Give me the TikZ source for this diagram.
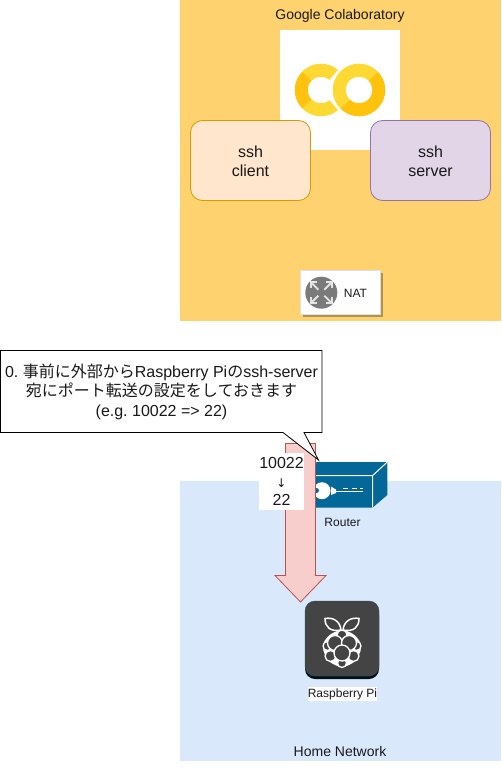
\documentclass[tikz,border=0pt]{standalone}
\usepackage{fontspec}
\setmainfont{Liberation Sans}
\newfontfamily\cjk{Noto Sans CJK JP}
\frenchspacing
\definecolor{colabbg}{HTML}{FFD270}
\definecolor{homebg}{HTML}{DAE8FC}
\definecolor{clientbg}{HTML}{FFE6CC}
\definecolor{clientln}{HTML}{D79B00}
\definecolor{serverbg}{HTML}{E1D5E7}
\definecolor{serverln}{HTML}{9673A6}
\definecolor{arrowbg}{HTML}{F8CECC}
\definecolor{arrowln}{HTML}{B85450}
\definecolor{routerbg}{HTML}{036897}
\definecolor{pibg}{HTML}{444444}
\definecolor{colablt}{HTML}{FFD933}
\definecolor{colabdk}{HTML}{FFC20D}
\tikzset{
	txt/.style={inner sep=0pt,align=center,text=black!90},
	sshbox/.style={draw,rounded corners=12pt,minimum width=120pt,minimum height=80pt,line width=0.8pt},
	dot/.style={circle,inner sep=0pt,minimum size=#1},
}
% ring piece of the logo: colour, centre x, from angle, to angle
\newcommand{\ringpart}[4]{\fill[#1] (#2,90) ++(-#3:26.3) arc (-#3:-#4:26.3) -- ++(-#4:-13) arc (-#4:-#3:13.3) -- cycle;}
\begin{document}
\begin{tikzpicture}[x=1pt,y=-1pt]
	\useasboundingbox (0,0) rectangle (501,773);
	% colab side
	\fill[colabbg] (180,0.5) rectangle (500.5,320.5);
	\node[txt,font=\fontsize{14}{17}\selectfont] (colabname) at (340,16) {Google Colaboratory};
	\fill[white] (280,30) rectangle (400,150);
	% logo
	\ringpart{colablt}{359}{45}{225}
	\ringpart{colabdk}{359}{-135}{45}
	\ringpart{colablt}{321}{50}{135}
	\ringpart{colablt}{321}{225}{310}
	\ringpart{colabdk}{321}{135}{225}
	\node[sshbox,fill=clientbg,draw=clientln] (sshclient) at (250.5,160.5) {};
	\node[txt,font=\fontsize{16}{19}\selectfont] (clientname) at (250.5,161.5) {ssh\\client};
	\node[sshbox,fill=serverbg,draw=serverln] (sshserver) at (430.5,160.5) {};
	\node[txt,font=\fontsize{16}{19}\selectfont] (servername) at (430.5,161.5) {ssh\\server};
	% nat
	\fill[black!30!colabbg] (302.5,272.5) rectangle (382.5,317);
	\node[draw=black!13,fill=white,line width=0.8pt,minimum width=80pt,minimum height=44pt,inner sep=0pt] (natbox) at (340.5,292.5) {};
	\node[dot=32pt,fill=black!52] (naticon) at (321.3,292.7) {};
	\foreach \sx/\sy in {-1/-1,1/-1,-1/1,1/1} {
		\draw[black!10,line width=1.8pt] (naticon.center) ++(\sx*3,\sy*3) -- ++(\sx*7,\sy*7);
		\draw[black!10,line width=1.8pt] (naticon.center) ++(\sx*4.5,\sy*10.5) -- ++(\sx*6,0) -- ++(0,-\sy*6);
	}
	\node[txt,font=\fontsize{12}{14}\selectfont] (natname) at (355.5,293) {NAT};
	% home side
	\fill[homebg] (180,480.5) rectangle (500.5,761);
	\node[txt,font=\fontsize{14}{17}\selectfont] (homename) at (340,751.5) {Home Network};
	% router
	\fill[routerbg] (302,475) -- (317,462) -- (387.3,462) -- (387.3,495) -- (372.7,507.5) -- (302,507.5) -- cycle;
	\draw[white,line width=1pt] (302,475.5) -- (372.7,475.5) -- (387.3,462) (372.7,475.5) -- (372.7,507.5);
	\node[dot=17pt,fill=white] (keyhead) at (322,490.7) {};
	\node[dot=5pt,fill=routerbg] (keyhole) at (316.5,490.5) {};
	\fill[white] (331,486.5) -- (336,489.5) -- (336,493) -- (331,495) -- cycle;
	\draw[white,line width=1.2pt] (336,491.7) -- (363,491.7);
	\draw[white,line width=1.2pt,dash pattern=on 5pt off 3.5pt] (343,488.5) -- (363,488.5);
	\node[txt,font=\fontsize{12}{14}\selectfont] (routername) at (342.5,522) {Router};
	% port forward arrow
	\draw[fill=arrowbg,draw=arrowln,line width=0.8pt] (285.5,443.5) -- (315.5,443.5) -- (315.5,575.5) -- (326,575.5) -- (300.5,602) -- (275,575.5) -- (285.5,575.5) -- cycle;
	\node[fill=white,inner sep=0pt,minimum width=45pt,minimum height=57pt] (portbg) at (281.5,481.5) {};
	\node[txt,font=\fontsize{16}{18.5}\selectfont] (portname) at (281.5,481.5) {10022\\{\fontsize{12}{18.5}\selectfont\fontspec{DejaVu Sans}↓}\\22};
	% callout
	\draw[fill=white,line width=0.8pt] (0.5,350.5) -- (322,350.5) -- (322,432.5) -- (304,432.5) -- (318.5,460) -- (283,432.5) -- (0.5,432.5) -- cycle;
	\node[txt,font=\fontsize{16}{19.5}\selectfont] (notename) at (161.5,391.5) {0. {\cjk 事前に外部から}Raspberry Pi{\cjk の}ssh-server\\{\cjk 宛にポート転送の設定をしておきます}\\(e.g. 10022 => 22)};
	% raspberry pi
	\fill[black!85!routerbg,rounded corners=10pt] (305,606) rectangle (379,679);
	\fill[pibg,rounded corners=10pt,draw=routerbg!40!pibg] (305,601) rectangle (379,676);
	\begin{scope}[white,line width=1.5pt]
		\draw (341,630) .. controls (330,632) and (325,627) .. (325,618.5) .. controls (333,617) and (340,621) .. (341,630);
		\draw (343,630) .. controls (354,632) and (359,627) .. (359,618.5) .. controls (351,617) and (344,621) .. (343,630);
		\fill plot[smooth cycle] coordinates {(342,630) (353,634) (360,642) (360.5,651) (354,662) (342,667) (330,662) (323.5,651) (324,642) (331,634)};
		\foreach \bx/\by/\br [count=\i] in {342/635/10,327.5/646/9,356.5/646/9,335/643/15,349/643/15,330.5/656/11,353.5/656/11,342/663/9,342/653/16} {
			\node[dot=\br pt,fill=pibg,draw=white,line width=1.3pt] (berry\i) at (\bx,\by) {};
		}
	\end{scope}
	\node[fill=white,inner sep=0pt,minimum width=69pt,minimum height=14pt,text=black!90,font=\fontsize{12}{14}\selectfont] (piname) at (342.5,694) {Raspberry Pi};
\end{tikzpicture}
\end{document}
